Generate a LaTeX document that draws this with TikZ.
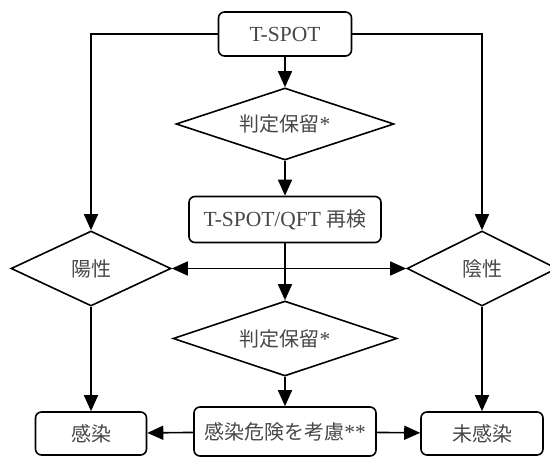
\documentclass[tikz,border=0pt]{standalone}
\usepackage{fontspec}
\setmainfont{Liberation Serif}
\newfontfamily\cjk{Noto Sans CJK JP}
\usetikzlibrary{shapes.geometric,arrows.meta}

\begin{document}
\begin{tikzpicture}[x=1pt, y=1pt, line width=1.6pt,
    font=\fontsize{21.5}{25}\selectfont,
    box/.style={draw, rounded corners=6pt, inner sep=0pt, text=black!72},
    cond/.style={draw, diamond, aspect=3, inner sep=0pt, text=black!72},
    >={Triangle[length=16pt,width=14pt]}]
        \useasboundingbox (0,0) rectangle (550,-457);
        \node [box, minimum width=133pt, minimum height=44pt] (1) at (285,-34) {T-SPOT};
        \node [cond, minimum width=218pt, minimum height=72pt] (2) at (285,-124) {{\cjk\fontsize{20}{24}\selectfont 判定保留}*};
        \node [box, minimum width=192pt, minimum height=46pt] (3) at (285,-219.5) {T-SPOT/QFT {\cjk\fontsize{20}{24}\selectfont 再検}};
        \node [cond, minimum width=160pt, minimum height=75pt] (4) at (91,-268.5) {\cjk\fontsize{20}{24}\selectfont 陽性};
        \node [cond, minimum width=150pt, minimum height=75pt] (5) at (482,-268.5) {\cjk\fontsize{20}{24}\selectfont 陰性};
        \node [cond, minimum width=224pt, minimum height=75pt] (6) at (285,-338.5) {{\cjk\fontsize{20}{24}\selectfont 判定保留}*};
        \node [box, minimum width=111pt, minimum height=43pt] (7) at (91,-433.5) {\cjk\fontsize{20}{24}\selectfont 感染};
        \node [box, minimum width=182pt, minimum height=49pt] (8) at (285,-431.5) {{\cjk\fontsize{20}{24}\selectfont 感染危険を考慮}**};
        \node [box, minimum width=122pt, minimum height=43pt] (9) at (482,-433.5) {\cjk\fontsize{20}{24}\selectfont 未感染};
        \draw[->] (1) -- (2);
        \draw[->] (2) -- (3);
        \draw[->] (1) -| (4);
        \draw[->] (1) -| (5);
        \draw[<->] (4) -- (5);
        \draw[->] (3) -- (6);
        \draw[->] (4) -- (7);
        \draw[->] (5) -- (9);
        \draw[->] (6) -- (8);
        \draw[->] (8) -- (7);
        \draw[->] (8) -- (9);
      \end{tikzpicture}
\end{document}
